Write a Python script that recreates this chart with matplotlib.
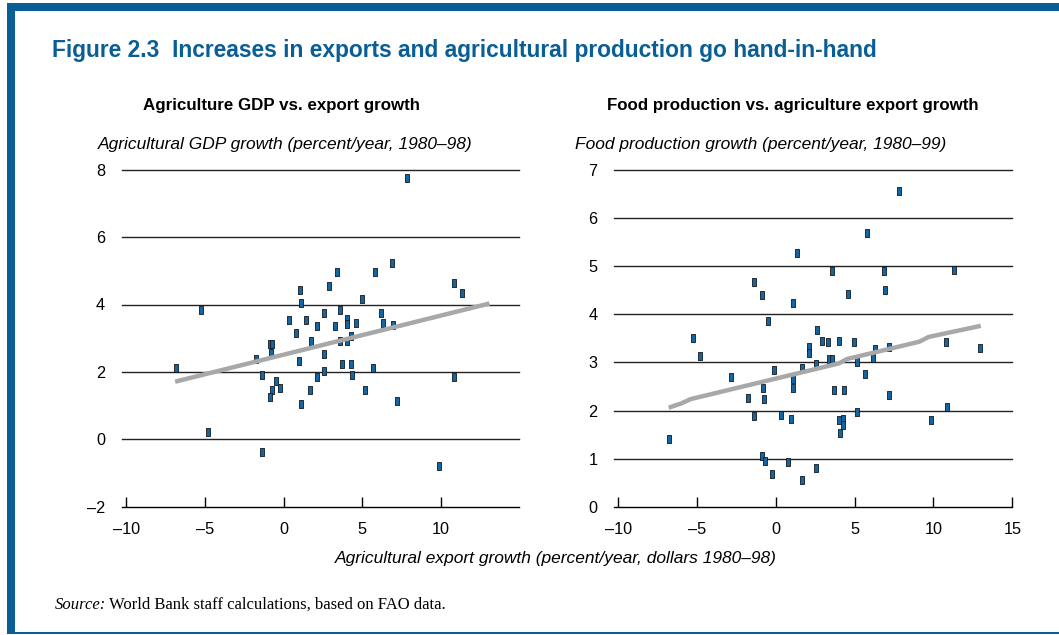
import matplotlib
matplotlib.use('Agg')
import matplotlib.pyplot as plt
from matplotlib.patches import Rectangle
from matplotlib.ticker import FuncFormatter

# --- data ---
agri_x = [7.85, 6.88, 3.40, 5.82, 1.06, 2.91, 10.83, 11.34, 1.10, 4.97,
          -5.27, 2.59, 3.57, 6.18, 0.34, 1.40, 4.01, 2.10, 3.29, 4.01,
          4.59, 6.31, 6.94, 0.78, 4.27, 1.72, 3.59, 4.05, -0.87, -0.73,
          -0.81, 2.59, -1.76, 0.96, -6.86, 3.69, 4.29, 5.67, 2.55, -1.38,
          4.35, 10.83, -0.51, 2.10, -0.76, -0.24, 1.68, 5.16, -0.85, 1.10,
          7.20, -4.82, -1.38, 9.91]
agri_y = [7.74, 5.23, 4.95, 4.95, 4.44, 4.55, 4.64, 4.35, 4.03, 4.15,
          3.83, 3.76, 3.83, 3.76, 3.55, 3.55, 3.57, 3.36, 3.36, 3.42,
          3.44, 3.44, 3.38, 3.16, 3.06, 2.91, 2.91, 2.91, 2.84, 2.84,
          2.55, 2.54, 2.37, 2.32, 2.12, 2.24, 2.24, 2.12, 2.04, 1.92,
          1.92, 1.84, 1.72, 1.84, 1.45, 1.53, 1.45, 1.45, 1.25, 1.05,
          1.13, 0.21, -0.39, -0.78]
agri_trend_x = [-6.9, 13.1]
agri_trend_y = [1.71, 4.03]

food_x = [7.84, 5.81, 1.37, 3.57, 6.87, 11.29, -1.40, -0.87, 4.59, 6.91,
          1.06, -0.53, -5.26, 2.62, 2.11, 2.07, 2.92, 3.28, 4.02, 4.95,
          10.80, 12.96, 6.30, 7.19, -4.80, 3.40, 3.57, 6.17, 2.56, 5.12,
          1.67, -0.13, 5.64, -2.85, 1.10, 1.10, -0.82, 3.66, 4.33, 7.19,
          -1.75, -0.78, 10.84, 5.16, -1.40, 0.32, 0.93, 4.02, 4.29, 4.29,
          9.87, 4.06, -6.81, -0.87, -0.70, 0.76, 2.56, -0.25, 1.67]
food_y = [6.55, 5.68, 5.27, 4.89, 4.89, 4.92, 4.67, 4.40, 4.43, 4.51,
          4.23, 3.85, 3.50, 3.67, 3.32, 3.20, 3.45, 3.42, 3.45, 3.42,
          3.42, 3.31, 3.27, 3.33, 3.14, 3.07, 3.07, 3.10, 2.96, 3.00,
          2.89, 2.84, 2.76, 2.70, 2.65, 2.46, 2.46, 2.43, 2.43, 2.33,
          2.27, 2.25, 2.07, 1.97, 1.89, 1.91, 1.83, 1.80, 1.83, 1.71,
          1.80, 1.54, 1.42, 1.05, 0.96, 0.93, 0.80, 0.69, 0.55]
food_trend_x = [-6.8, -6.0, -5.4, 4.0, 4.5, 9.1, 9.7, 13.0]
food_trend_y = [2.06, 2.15, 2.24, 2.98, 3.07, 3.43, 3.53, 3.76]

x_ticks_left = [-10, -5, 0, 5, 10]
x_ticks_right = [-10, -5, 0, 5, 10, 15]
y_ticks_left = [-2, 0, 2, 4, 6, 8]
y_ticks_right = [0, 1, 2, 3, 4, 5, 6, 7]

BLUE = '#0a5e96'
W, H = 1059, 635

plt.rcParams['font.family'] = ['Liberation Sans', 'DejaVu Sans']

fig = plt.figure(figsize=(W / 100, H / 100), dpi=100)


def fx(x):
    return x / W


def fy(y):
    return 1 - y / H


# blue frame: thick top and left, thin bottom
fig.add_artist(Rectangle((fx(7), fy(10.5)), 1 - fx(7), 7.5 / H,
                         transform=fig.transFigure, color=BLUE, lw=0))
fig.add_artist(Rectangle((fx(7), fy(633)), 8 / W, 623 / H,
                         transform=fig.transFigure, color=BLUE, lw=0))
fig.add_artist(Rectangle((fx(7), fy(634)), 1 - fx(7), 2.2 / H,
                         transform=fig.transFigure, color=BLUE, lw=0))

dash = FuncFormatter(lambda v, p: ('\u2013%g' % -v) if v < 0 else '%g' % v)

# small upright rectangle marker
rect = [(-0.28, -0.5), (0.28, -0.5), (0.28, 0.5), (-0.28, 0.5), (-0.28, -0.5)]


def style(ax, xt, yt, ylim):
    ax.set_xlim(-10.3, 15)
    ax.set_ylim(*ylim)
    ax.set_xticks(xt)
    ax.set_yticks(yt)
    ax.xaxis.set_major_formatter(dash)
    ax.yaxis.set_major_formatter(dash)
    for s in ['top', 'right', 'left']:
        ax.spines[s].set_visible(False)
    ax.spines['bottom'].set_linewidth(1.0)
    ax.tick_params(axis='x', direction='in', length=7, width=1, pad=11,
                   labelsize=11.7)
    ax.tick_params(axis='y', length=0, pad=12, labelsize=11.7)
    for v in yt[1:]:
        ax.axhline(v, color='#222222', lw=1.0, clip_on=False, zorder=1)


axL = fig.add_axes([fx(121.7), fy(506.7), (519.3 - 121.7) / W, (506.7 - 169.7) / H])
style(axL, x_ticks_left, y_ticks_left, (-2, 8))
axL.plot(agri_trend_x, agri_trend_y, color='#a8a8a8', lw=3.2,
         solid_capstyle='butt', zorder=3)
axL.plot(agri_x, agri_y, ls='none', marker=rect, ms=5.8, mfc='#1565a2',
         mec='#101820', mew=0.6, zorder=2)

axR = fig.add_axes([fx(614), fy(507), (1012.3 - 614) / W, (507 - 169.7) / H])
style(axR, x_ticks_right, y_ticks_right, (0, 7))
axR.set_xlim(-10.27, 15)
axR.plot(food_trend_x, food_trend_y, color='#a8a8a8', lw=3.2,
         solid_capstyle='butt', zorder=3)
axR.plot(food_x, food_y, ls='none', marker=rect, ms=5.8, mfc='#1565a2',
         mec='#101820', mew=0.6, zorder=2)

# texts
fig.text(fx(52), fy(57), 'Figure 2.3  Increases in exports and agricultural production go hand-in-hand',
         color=BLUE, fontsize=16.4, fontweight='bold', va='baseline', ha='left')
fig.text(fx(281), fy(110), 'Agriculture GDP vs. export growth',
         fontsize=12.2, fontweight='bold', va='baseline', ha='center')
fig.text(fx(793), fy(110), 'Food production vs. agriculture export growth',
         fontsize=12.2, fontweight='bold', va='baseline', ha='center')
fig.text(fx(98), fy(149.5), 'Agricultural GDP growth (percent/year, 1980\u201398)',
         fontsize=12.5, style='italic', va='baseline', ha='left')
fig.text(fx(575), fy(149.5), 'Food production growth (percent/year, 1980\u201399)',
         fontsize=12.5, style='italic', va='baseline', ha='left')
fig.text(fx(556), fy(563), 'Agricultural export growth (percent/year, dollars 1980\u201398)',
         fontsize=12.5, style='italic', va='baseline', ha='center')
src = fig.text(fx(55), fy(609), 'Source:', family='Liberation Serif', style='italic',
               fontsize=12, va='baseline', ha='left')
fig.canvas.draw()
bb = src.get_window_extent()
fig.text(bb.x1 / W + 3 / W, fy(609), 'World Bank staff calculations, based on FAO data.',
         family='Liberation Serif', fontsize=12, va='baseline', ha='left')

fig.savefig('out.png', dpi=100)
